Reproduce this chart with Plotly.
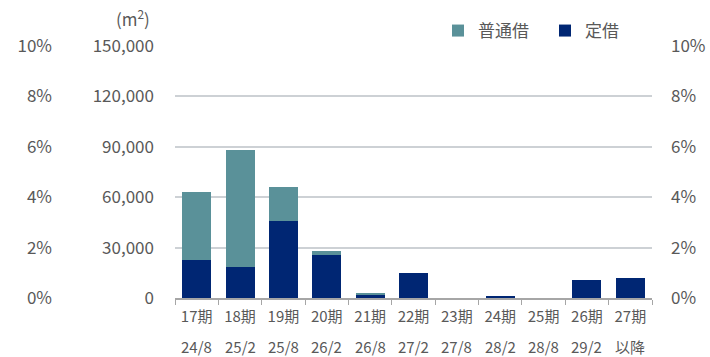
import plotly.graph_objects as go

periods = ["17期", "18期", "19期", "20期", "21期", "22期", "23期", "24期", "25期", "26期", "27期"]
dates = ["24/8", "25/2", "25/8", "26/2", "26/8", "27/2", "27/8", "28/2", "28/8", "29/2", "以降"]
teishaku = [22800, 18200, 45800, 25800, 1500, 15100, 0, 1000, 0, 10700, 12100]
futsu = [40300, 70100, 20000, 1900, 1500, 0, 0, 0, 0, 0, 0]
y_ticks = [0, 30000, 60000, 90000, 120000, 150000]
pct_ticks = [0, 0.02, 0.04, 0.06, 0.08, 0.10]

FONT = "Noto Sans CJK JP"
GREY = "#595959"
TEAL = "#5A9199"
NAVY = "#002673"

W, H = 710, 357
x0, x1 = 175, 652
top, bottom = 46, 298

fig = go.Figure()
fig.add_trace(go.Bar(x=periods, y=teishaku, name="定借", marker=dict(color=NAVY, line=dict(width=0))))
fig.add_trace(go.Bar(x=periods, y=futsu, name="普通借", marker=dict(color=TEAL, line=dict(width=0))))
# invisible traces for percentage axes
fig.add_trace(go.Bar(x=periods, y=[0]*len(periods), yaxis="y2", showlegend=False, hoverinfo="skip",
                     marker=dict(color="rgba(0,0,0,0)")))
fig.add_trace(go.Bar(x=periods, y=[0]*len(periods), yaxis="y3", showlegend=False, hoverinfo="skip",
                     marker=dict(color="rgba(0,0,0,0)")))

for p, d in zip(periods, dates):
    fig.add_annotation(x=p, y=-(346 - bottom) / (bottom - top), xref="x", yref="paper",
                       text=d, showarrow=False, yanchor="middle",
                       font=dict(family=FONT, size=15, color=GREY))

fig.add_annotation(x=152 / W, y=1 + (46 - 18) / (bottom - top), xref="paper", yref="paper",
                   text="(m<sup>2</sup>)", showarrow=False, xanchor="right", yanchor="middle",
                   font=dict(family=FONT, size=17, color=GREY))

fig.update_layout(
    width=W, height=H,
    margin=dict(l=0, r=0, t=top, b=H - bottom, autoexpand=False),
    paper_bgcolor="white", plot_bgcolor="white",
    barmode="stack", bargap=0.33,
    font=dict(family=FONT, color=GREY),
    xaxis=dict(domain=[x0 / W, x1 / W], type="category", tickson="boundaries",
               range=[-0.5, len(periods) - 0.5],
               ticks="outside", ticklen=5, tickcolor="#A6A6A6",
               showline=True, linecolor="#A6A6A6", linewidth=1.5,
               tickfont=dict(family=FONT, size=15, color=GREY), showgrid=False,
               ticklabelstandoff=4),
    yaxis=dict(range=[0, 150000], tickvals=y_ticks, tickformat=",d",
               showgrid=True, gridcolor="#CDD1D5", gridwidth=1.5, zeroline=False,
               tickfont=dict(family=FONT, size=17, color=GREY), ticklabelstandoff=20,
               automargin=False),
    yaxis2=dict(range=[0, 0.10], tickvals=pct_ticks, tickformat=".0%", overlaying="y",
                side="right", anchor="x", showgrid=False, zeroline=False,
                tickfont=dict(family=FONT, size=17, color=GREY), ticklabelstandoff=18,
                automargin=False),
    yaxis3=dict(range=[0, 0.10], tickvals=pct_ticks, tickformat=".0%", overlaying="y",
                side="left", anchor="free", position=52 / W, showgrid=False, zeroline=False,
                showline=False, tickfont=dict(family=FONT, size=17, color=GREY),
                automargin=False),
    legend=dict(orientation="h", traceorder="reversed", x=438 / W, y=1 + (46 - 31) / (bottom - top),
                xanchor="left", yanchor="middle", font=dict(family=FONT, size=17, color=GREY),
                itemwidth=30, entrywidth=62, bgcolor="rgba(0,0,0,0)"),
    showlegend=True,
)

fig.write_html("out.html")
